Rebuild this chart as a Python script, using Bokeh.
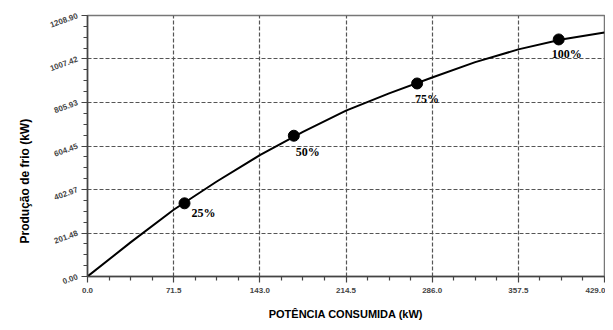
from bokeh.plotting import figure
from bokeh.models import FixedTicker, PrintfTickFormatter, Title, Range1d
from bokeh.core.properties import value
from bokeh.embed import file_html
from bokeh.resources import INLINE

# data
curve_x = [0.0, 35.75, 71.5, 107.25, 143.0, 178.75, 214.5, 250.25, 286.0, 321.75, 357.5, 393.25, 429.0]
curve_y = [0.0, 158.0, 309.0, 440.0, 562.0, 670.0, 768.0, 848.0, 922.0, 993.0, 1052.0, 1098.0, 1130.0]
load_x = [80.5, 171.2, 273.5, 391.0]
load_y = [339.0, 652.0, 894.0, 1098.0]
load_labels = ["25%", "50%", "75%", "100%"]
x_ticks = [0.0, 71.5, 143.0, 214.5, 286.0, 357.5, 429.0]
y_ticks = [0.00, 201.48, 402.97, 604.45, 805.93, 1007.42, 1208.90]
x_title = "POTÊNCIA CONSUMIDA (kW)"
y_title = "Produção de frio (kW)"

# label placement (styling)
lab_dx = [7, 2, -2, -7]
lab_dy = [10, 16, 16, 15]

p = figure(width=605, height=322, output_backend="svg", toolbar_location=None,
           x_range=Range1d(0, 429.0), y_range=Range1d(0, 1208.90),
           min_border_left=87, min_border_right=1, min_border_top=15, min_border_bottom=30)
p.background_fill_color = "white"
p.border_fill_color = "white"
p.outline_line_color = "#777777"
p.outline_line_width = 1.5

def minors(t):
    out = []
    for a, b in zip(t[:-1], t[1:]):
        for k in (1, 2, 3):
            out.append(a + (b - a) * k / 4)
    return out

xt = FixedTicker(ticks=x_ticks, minor_ticks=minors(x_ticks))
yt = FixedTicker(ticks=y_ticks, minor_ticks=minors(y_ticks))
xa = p.xaxis[0]
ya = p.yaxis[0]
xa.ticker = xt
ya.ticker = yt
p.xgrid[0].ticker = xt
p.ygrid[0].ticker = yt
xa.formatter = PrintfTickFormatter(format="%.1f")
ya.formatter = PrintfTickFormatter(format="%.2f")

for ax in (xa, ya):
    ax.axis_line_color = "#444444"
    ax.axis_line_width = 1.5
    ax.major_tick_line_color = "#444444"
    ax.major_tick_line_width = 1.2
    ax.minor_tick_line_color = "#444444"
    ax.minor_tick_line_width = 1.2
    ax.major_tick_out = 6
    ax.major_tick_in = 0
    ax.minor_tick_out = 4
    ax.minor_tick_in = 0
    ax.major_label_text_font = "Liberation Sans"
    ax.major_label_text_font_style = "bold"
    ax.major_label_text_font_size = "8px"
    ax.major_label_text_color = "#444444"

xa.major_label_standoff = 5
ya.major_label_standoff = 4
ya.major_label_orientation = 0.35

xa.axis_label = x_title
xa.axis_label_text_font = "Liberation Sans"
xa.axis_label_text_font_style = "bold"
xa.axis_label_text_font_size = "11px"
xa.axis_label_text_color = "black"
xa.axis_label_standoff = 12

for g in (p.xgrid[0], p.ygrid[0]):
    g.grid_line_color = "#555555"
    g.grid_line_dash = "4 2"
    g.grid_line_width = 1.2

p.line(curve_x, curve_y, line_color="black", line_width=2)
p.scatter(load_x, load_y, size=11, color="black")
p.text(load_x, load_y, text=load_labels, x_offset=lab_dx, y_offset=lab_dy,
       text_font=value("Liberation Serif"), text_font_style="bold",
       text_font_size="12px", text_baseline="middle", text_align="left", text_color="black")

p.add_layout(Title(text=y_title, align="left", offset=33, text_font="Liberation Sans",
                   text_font_style="bold", text_font_size="12px", text_color="black",
                   standoff=27), "left")

open("out.html", "w").write(file_html(p, INLINE))
